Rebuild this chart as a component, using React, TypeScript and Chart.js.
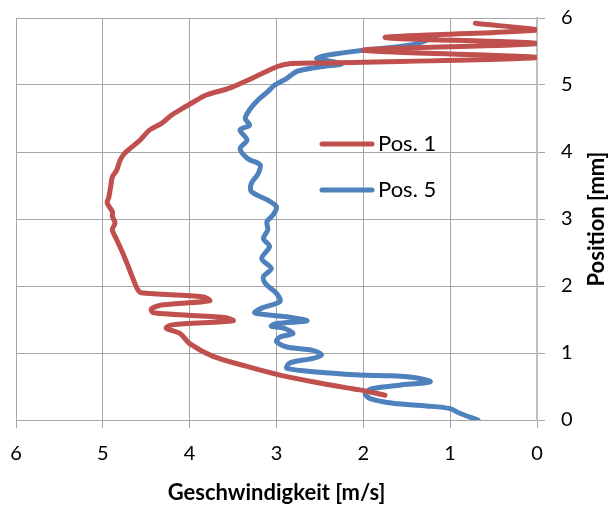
import React, { useEffect, useRef } from "react";
import { Chart, registerables } from "chart.js";

Chart.register(...registerables);

const xTicks = [0, 1, 2, 3, 4, 5, 6];
const yTicks = [0, 1, 2, 3, 4, 5, 6];

const pos1Label = "Pos. 1";
const pos5Label = "Pos. 5";

// Pos. 1 (red): velocity [m/s] and position [mm]
const pos1X = [
  1.75, 2.04, 2.19, 2.58, 2.96, 3.34, 3.73, 4.0, 4.11, 4.27, 4.2, 3.5, 3.6, 4.42, 4.44, 4.3, 3.77, 3.85, 4.56, 4.6,
  4.65, 4.71, 4.77, 4.84, 4.89, 4.86, 4.89, 4.89, 4.95, 4.93, 4.91, 4.89, 4.84, 4.8, 4.75, 4.66, 4.57, 4.46, 4.32,
  4.21, 4.12, 3.99, 3.81, 3.55, 3.25, 2.98, 2.83, 2.44, 0.0, 2.0, 0.0, 1.75, 0.0, 0.71,
];
const pos1Y = [
  0.37, 0.45, 0.48, 0.57, 0.67, 0.8, 0.95, 1.14, 1.29, 1.37, 1.42, 1.48, 1.53, 1.6, 1.66, 1.72, 1.78, 1.84, 1.9, 1.95,
  2.1, 2.3, 2.49, 2.69, 2.84, 2.94, 3.04, 3.11, 3.24, 3.33, 3.48, 3.63, 3.73, 3.88, 3.98, 4.08, 4.18, 4.33, 4.43,
  4.55, 4.62, 4.72, 4.85, 4.95, 5.12, 5.28, 5.32, 5.33, 5.41, 5.52, 5.62, 5.71, 5.82, 5.92,
];

// Pos. 5 (blue)
const pos5X = [
  0.68, 0.89, 1.0, 1.27, 1.66, 1.92, 1.98, 1.89, 1.58, 1.23, 1.35, 1.66, 2.04, 2.38, 2.88, 2.85, 2.58, 2.48, 2.58,
  2.88, 3.0, 2.96, 2.81, 2.92, 3.06, 3.0, 2.65, 2.88, 3.25, 3.17, 2.96, 3.0, 3.13, 3.15, 3.06, 3.17, 3.08, 3.15, 3.1,
  3.11, 3.04, 3.0, 3.1, 3.29, 3.29, 3.21, 3.19, 3.33, 3.42, 3.34, 3.42, 3.31, 3.36, 3.31, 3.21, 3.1, 3.02, 2.88,
  2.77, 2.6, 2.44, 2.25, 2.4, 2.54, 2.4, 2.0, 1.43, 1.16,
];
const pos5Y = [
  0.0, 0.1, 0.17, 0.21, 0.25, 0.32, 0.4, 0.47, 0.52, 0.57, 0.62, 0.66, 0.67, 0.7, 0.77, 0.85, 0.92, 0.97, 1.04,
  1.09, 1.17, 1.24, 1.29, 1.37, 1.4, 1.44, 1.48, 1.54, 1.6, 1.67, 1.77, 1.89, 2.04, 2.14, 2.26, 2.41, 2.59, 2.71, 2.84,
  2.96, 3.06, 3.18, 3.28, 3.41, 3.53, 3.68, 3.81, 3.9, 4.05, 4.18, 4.33, 4.4, 4.5, 4.63, 4.78, 4.9, 5.0, 5.1,
  5.2, 5.25, 5.28, 5.31, 5.36, 5.4, 5.45, 5.52, 5.6, 5.72,
];

const RED = "#C0504D";
const BLUE = "#4F81BD";
const GRID = "#a6a6a6";
const FONT = "Lato, 'Open Sans', sans-serif";

const toPoints = (xs: number[], ys: number[]) => xs.map((x, i) => ({ x, y: ys[i] }));

const zeroPad = (s: any) => {
  s.paddingLeft = 0;
  s.paddingRight = 0;
  s.paddingTop = 0;
  s.paddingBottom = 0;
};

const overlayPlugin = {
  id: "overlay",
  afterDraw(chart: any) {
    const { ctx, chartArea } = chart;
    ctx.save();
    // legend
    const items = [
      { label: pos1Label, color: RED, y: 144 },
      { label: pos5Label, color: BLUE, y: 190 },
    ];
    items.forEach((it) => {
      ctx.strokeStyle = it.color;
      ctx.lineWidth = 5;
      ctx.lineCap = "round";
      ctx.beginPath();
      ctx.moveTo(322, it.y);
      ctx.lineTo(372, it.y);
      ctx.stroke();
      ctx.fillStyle = "#000";
      ctx.font = `22px ${FONT}`;
      ctx.textAlign = "left";
      ctx.textBaseline = "middle";
      ctx.fillText(it.label, 378, it.y);
    });
    // right axis title, reading bottom to top
    ctx.translate(597, (chartArea.top + chartArea.bottom) / 2);
    ctx.rotate(-Math.PI / 2);
    ctx.font = `bold 22px ${FONT}`;
    ctx.textAlign = "center";
    ctx.textBaseline = "middle";
    ctx.fillText("Position [mm]", 0, 0);
    ctx.restore();
  },
};

export default function App() {
  const ref = useRef<HTMLCanvasElement | null>(null);
  useEffect(() => {
    document.body.style.margin = "0";
    const canvas = ref.current;
    if (!canvas) return;
    const chart = new Chart(canvas, {
      type: "scatter",
      data: {
        datasets: [
          {
            label: pos1Label,
            data: toPoints(pos1X, pos1Y),
            showLine: true,
            borderColor: RED,
            backgroundColor: RED,
            borderWidth: 5,
            pointRadius: 0,
            tension: 0.3,
            borderCapStyle: "round",
            borderJoinStyle: "round",
          },
          {
            label: pos5Label,
            data: toPoints(pos5X, pos5Y),
            showLine: true,
            borderColor: BLUE,
            backgroundColor: BLUE,
            borderWidth: 5,
            pointRadius: 0,
            tension: 0.3,
            borderCapStyle: "round",
            borderJoinStyle: "round",
          },
        ],
      },
      options: {
        animation: false,
        responsive: false,
        devicePixelRatio: 1,
        layout: { padding: { left: 16, top: 18, right: 0, bottom: 0 } },
        plugins: { legend: { display: false }, tooltip: { enabled: false } },
        scales: {
          x: {
            type: "linear",
            position: "bottom",
            reverse: true,
            min: 0,
            max: 6,
            afterBuildTicks: (s: any) => {
              s.ticks = xTicks.map((v) => ({ value: v }));
            },
            afterFit: (s: any) => {
              s.height = 86;
              zeroPad(s);
            },
            ticks: { color: "#000", font: { family: FONT, size: 20 }, padding: 14 },
            grid: { color: GRID, tickLength: 8, lineWidth: 1 },
            border: { color: GRID },
            title: {
              display: true,
              text: "Geschwindigkeit [m/s]",
              color: "#000",
              font: { family: FONT, size: 22, weight: "bold" },
              padding: { top: 0, bottom: 0 },
            },
          },
          y: {
            type: "linear",
            position: "right",
            min: 0,
            max: 6,
            afterBuildTicks: (s: any) => {
              s.ticks = yTicks.map((v) => ({ value: v }));
            },
            afterFit: (s: any) => {
              s.width = 74;
              zeroPad(s);
            },
            ticks: { color: "#000", font: { family: FONT, size: 20 }, padding: 16 },
            grid: { color: GRID, tickLength: 8, lineWidth: 1 },
            border: { color: "#bfbfbf", width: 2 },
          },
        },
      },
      plugins: [overlayPlugin],
    });
    return () => chart.destroy();
  }, []);
  return (
    <div style={{ width: 611, height: 506 }}>
      <canvas ref={ref} width={611} height={506} style={{ display: "block" }} />
    </div>
  );
}
